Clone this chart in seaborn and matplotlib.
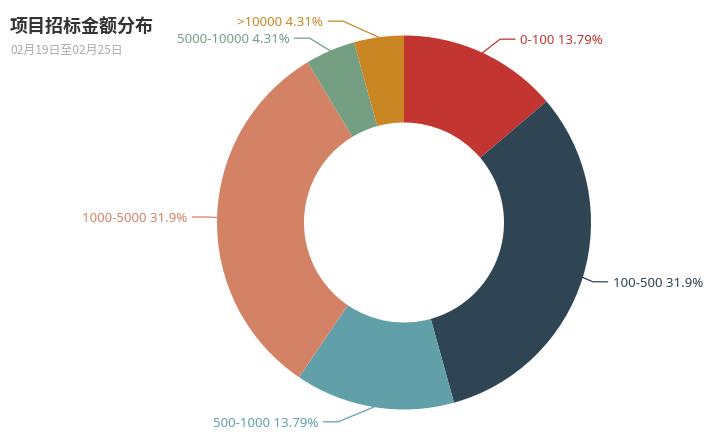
import numpy as np
import matplotlib
matplotlib.use('Agg')
import matplotlib.pyplot as plt
import seaborn as sns

# data
categories = ['0-100', '100-500', '500-1000', '1000-5000', '5000-10000', '>10000']
counts = [16, 37, 16, 37, 5, 5]
pct_labels = ['13.79%', '31.9%', '13.79%', '31.9%', '4.31%', '4.31%']
colors = ['#c23531', '#2f4554', '#61a0a8', '#d48265', '#749f83', '#ca8622']

title = '项目招标金额分布'
subtitle = '02月19日至02月25日'

sns.set_style('white')
plt.rcParams['font.family'] = ['Noto Sans CJK SC', 'DejaVu Sans']

W, H = 707, 438
fig = plt.figure(figsize=(W / 100, H / 100), dpi=100)
ax = fig.add_axes([0, 0, 1, 1])
ax.set_xlim(0, W)
ax.set_ylim(0, H)
ax.set_aspect('equal')
ax.axis('off')

# geometry in pixels (y measured from top)
cx, cy_top = 404, 222.5
r_out, r_in = 187, 100
cy = H - cy_top

ax.pie(counts, colors=colors, startangle=90, counterclock=False,
       radius=r_out, center=(cx, cy),
       wedgeprops=dict(width=r_out - r_in, linewidth=0))
ax.set_xlim(0, W)
ax.set_ylim(0, H)

# echarts-like outside labels with leader lines
len1, len2, gap = 15, 15, 5
vals = np.array(counts, dtype=float)
frac = vals / vals.sum()
mids = (np.cumsum(frac) - frac / 2) * 2 * np.pi  # clockwise from top

labels = []
for i, a in enumerate(mids):
    sx, sy = np.sin(a), np.cos(a)
    labels.append(dict(i=i, dir=1 if sx >= 0 else -1,
                       ex=cx + r_out * sx, ey=cy + r_out * sy,
                       ly=cy + (r_out + len1) * sy))

# push apart labels on the same side that overlap
min_gap = 17
for side in (1, -1):
    items = sorted([l for l in labels if l['dir'] == side], key=lambda l: -l['ly'])
    for a_, b_ in zip(items, items[1:]):
        d = a_['ly'] - b_['ly']
        if d < min_gap:
            shift = (min_gap - d) / 2
            a_['ly'] += shift
            b_['ly'] -= shift

R = r_out + len1 + len2
for l in labels:
    dy = abs(l['ly'] - cy)
    dx = np.sqrt(max(R ** 2 - dy ** 2, 0))
    lx = cx + l['dir'] * dx
    end_x = lx - l['dir'] * gap
    elbow_x = end_x - l['dir'] * len2
    c = colors[l['i']]
    ax.plot([l['ex'], elbow_x, end_x], [l['ey'], l['ly'], l['ly']],
            color=c, linewidth=0.9, solid_joinstyle='miter')
    ax.text(lx, l['ly'] - 1.5, f"{categories[l['i']]} {pct_labels[l['i']]}",
            color=c, fontsize=9.5, family=['Noto Sans', 'Noto Sans CJK SC'],
            ha='left' if l['dir'] > 0 else 'right', va='center')

# titles
ax.text(10, H - 27, title, fontsize=13, fontweight='bold', color='#333333',
        ha='left', va='center')
ax.text(10, H - 50, subtitle, fontsize=8.6, color='#aaaaaa',
        ha='left', va='center')

plt.savefig('out.png', dpi=100)
